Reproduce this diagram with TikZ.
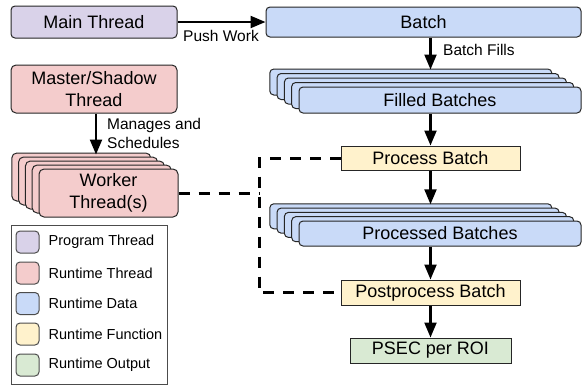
\documentclass[tikz,border=0pt]{standalone}
\usepackage{fontspec}
\setmainfont{Liberation Sans}
\usetikzlibrary{arrows.meta,positioning}
\definecolor{program-fill}{HTML}{D9D2E9}
\definecolor{thread-fill}{HTML}{F4CCCC}
\definecolor{data-fill}{HTML}{C9DAF8}
\definecolor{function-fill}{HTML}{FFF2CC}
\definecolor{output-fill}{HTML}{D9EAD3}
\tikzset{
    base-box/.style = {draw=black!85, line width=1pt, rectangle, align=center, inner sep=0pt, font=\fontsize{18}{22}\selectfont},
    program-box/.style = {base-box, fill=program-fill, rounded corners=4pt},
    thread-box/.style = {base-box, fill=thread-fill, rounded corners=5pt},
    data-box/.style = {base-box, fill=data-fill, rounded corners=4pt},
    function-box/.style = {base-box, fill=function-fill},
    output-box/.style = {base-box, fill=output-fill},
    flow/.style = {line width=2.2pt, -{Triangle[length=15pt,width=12pt]}},
    link/.style = {line width=3pt, dash pattern=on 11pt off 9pt},
    flow-label/.style = {font=\fontsize{15.5}{19}\selectfont, align=left, inner sep=0pt},
    key-box/.style = {draw=black!70, line width=1pt, rounded corners=4pt, minimum width=23pt, minimum height=22pt, inner sep=0pt},
    key-text/.style = {font=\fontsize{14.5}{17}\selectfont, inner sep=0pt},
}

\begin{document}
\begin{tikzpicture}[x=1pt,y=-1pt]
\useasboundingbox (0,0) rectangle (582,384);

% program side
\node[program-box, minimum width=166pt, minimum height=32pt] (main) at (94,22) {Main Thread};
\node[thread-box, minimum width=166pt, minimum height=48pt] (master) at (94,89) {Master/Shadow\\Thread};
\foreach \i in {4,3,2,1}
    \node[thread-box, minimum width=139pt, minimum height=48pt] (worker-back-\i) at (108.5-6.8*\i,193-4*\i) {};
\node[thread-box, minimum width=139pt, minimum height=48pt] (worker) at (108.5,193) {Worker\\Thread(s)};

% batch pipeline
\node[data-box, minimum width=315pt, minimum height=30pt] (batch) at (423.5,22) {Batch};
\foreach \i in {4,3,2,1}
    \node[data-box, minimum width=282pt, minimum height=26pt] (filled-back-\i) at (440-7.3*\i,100-4.5*\i) {};
\node[data-box, minimum width=282pt, minimum height=26pt] (filled) at (440,100) {Filled Batches};
\node[function-box, minimum width=179pt, minimum height=24pt] (process) at (430.5,158) {Process Batch};
\foreach \i in {4,3,2,1}
    \node[data-box, minimum width=282pt, minimum height=25pt] (processed-back-\i) at (440-7.3*\i,233.5-4.3*\i) {};
\node[data-box, minimum width=282pt, minimum height=25pt] (processed) at (440,233.5) {Processed Batches};
\node[function-box, minimum width=179pt, minimum height=25pt] (postprocess) at (430.5,292.5) {Postprocess Batch};
\node[output-box, minimum width=161pt, minimum height=25pt] (psec) at (430.5,350.5) {PSEC per ROI};

% arrows
\draw[flow] (main.east) -- (batch.west);
\node[flow-label] (push-label) at (221,36) {Push Work};
\draw[flow] (batch.south -| process.north) -- ([yshift=-1pt]filled-back-4.north -| process.north);
\node[flow-label, anchor=west] (fills-label) at (443,50) {Batch Fills};
\draw[flow] (filled.south -| process.north) -- (process.north);
\draw[flow] (process.south) -- ([yshift=-1pt]processed-back-4.north -| process.south);
\draw[flow] (processed.south -| postprocess.north) -- (postprocess.north);
\draw[flow] (postprocess.south) -- (psec.north);
\coordinate (manage-start) at ([xshift=2pt]master.south);
\draw[flow] (manage-start) -- ([yshift=-2pt]worker-back-4.north -| manage-start);
\node[flow-label, anchor=west] (manages-label) at (107,133.5) {Manages and\\Schedules};

% worker links
\coordinate (bus) at (259,0);
\draw[link] (worker.east) -- (worker.east -| bus);
\draw[link] (process.west) -- (process.west -| bus) -- (postprocess.west -| bus) -- (postprocess.west);

% legend
\draw[black!70, line width=1pt] (11,225) rectangle (167,384);
\foreach \y/\col/\txt/\nm in {242/program-fill/Program Thread/program,
        273/thread-fill/Runtime Thread/thread,
        303.5/data-fill/Runtime Data/data,
        334/function-fill/Runtime Function/function,
        365/output-fill/Runtime Output/output} {
    \node[key-box, fill=\col] (key-\nm) at (27.5,\y) {};
    \node[key-text, right=9pt of key-\nm] (key-text-\nm) {\txt};
}
\end{tikzpicture}
\end{document}
